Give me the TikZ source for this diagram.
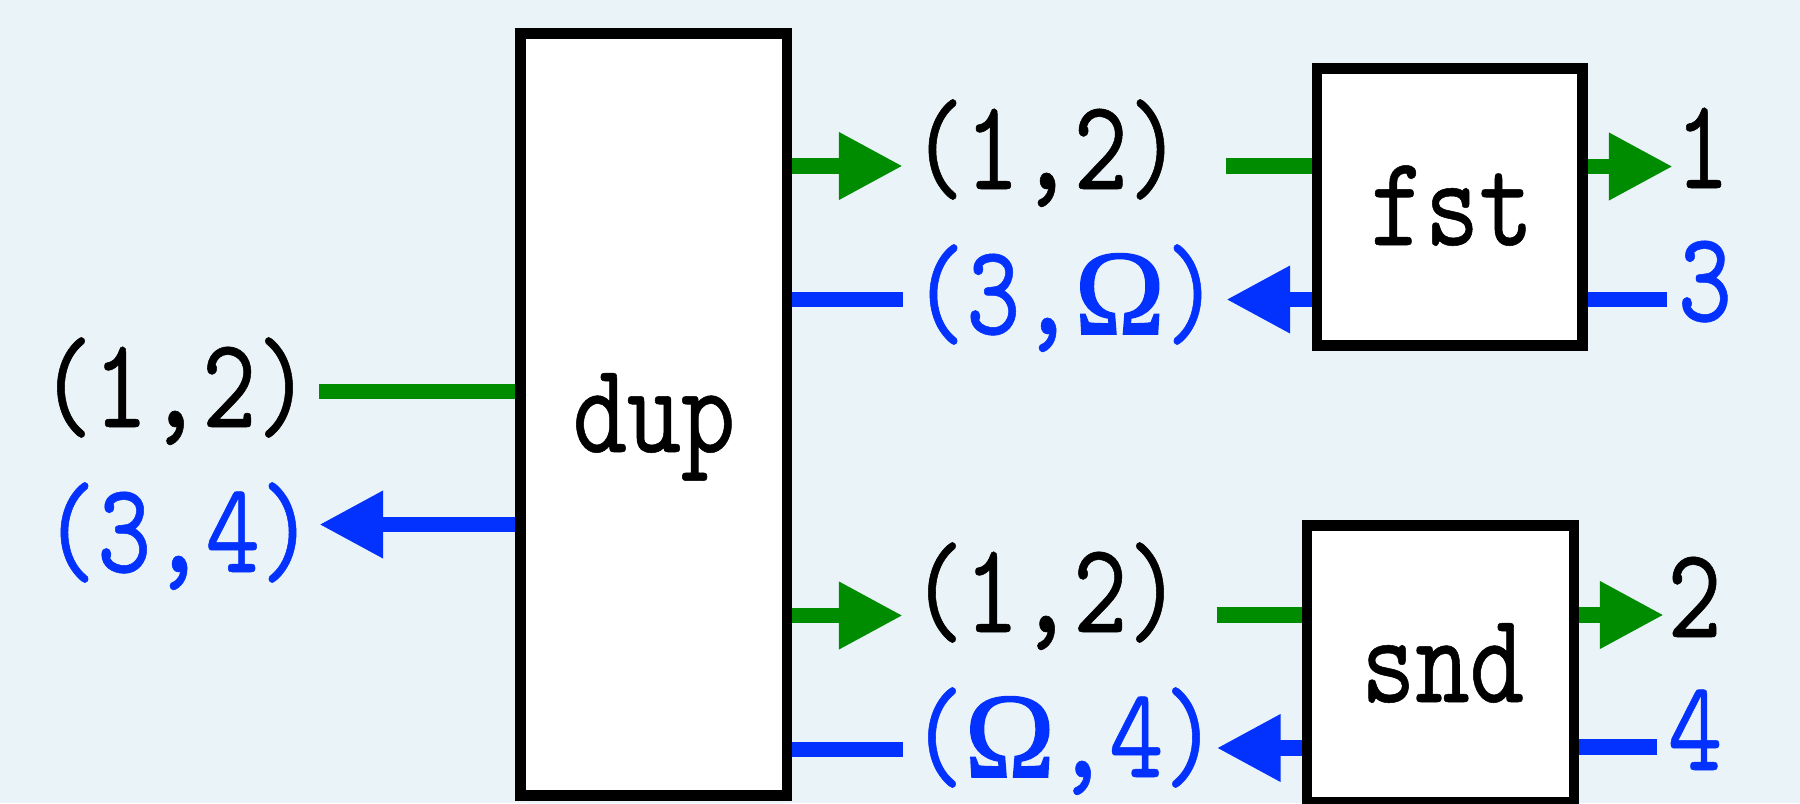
\documentclass[tikz,border=0pt]{standalone}
\usepackage{fontspec}
\newfontfamily\diagfont{lmmono10-regular.otf}[FakeStretch=0.8,FakeBold=0.4]
\newfontfamily\omfont{Liberation Serif}[FakeBold=1.5]
\usetikzlibrary{arrows.meta}
\definecolor{bgcol}{RGB}{234,243,247}
\definecolor{wiregreen}{RGB}{0,140,0}
\definecolor{wireblue}{RGB}{3,50,255}
\newcommand{\Om}{{\omfont\fontsize{34.5}{34.5}\selectfont Ω}}
\pgfdeclarelayer{backdrop}
\pgfdeclarelayer{wires}
\pgfsetlayers{backdrop,wires,main}

\begin{document}
\begin{tikzpicture}[x=0.01cm, y=-0.01cm,
  every node/.style={inner sep=0pt, outer sep=0pt},
  txt/.style={font=\diagfont\fontsize{36.7}{40}\selectfont, anchor=base},
  btxt/.style={txt, text=wireblue},
  procbox/.style={draw=black, fill=white, line width=3pt},
  gwire/.style={draw=wiregreen, line width=4.5pt},
  bwire/.style={draw=wireblue, line width=4.5pt},
  headed/.style={-{Triangle[length=0.64cm,width=0.63cm]}}]

% canvas
\begin{pgfonlayer}{backdrop}
  \fill[bgcol] (0,0) rectangle (1800,803);
\end{pgfonlayer}
\useasboundingbox (0,0) rectangle (1800,803);

% processing blocks
\node[procbox, minimum width=2.665cm, minimum height=7.615cm] (dup) at (653.75,414.25) {};
\node[procbox, minimum width=2.655cm, minimum height=2.77cm] (fst) at (1449.75,207) {};
\node[procbox, minimum width=2.67cm, minimum height=2.77cm] (snd) at (1440.5,664) {};
\node[txt] (duptxt) at (654,452) {dup};
\node[txt] (fsttxt) at (1452,245) {fst};
\node[txt] (sndtxt) at (1442.5,702) {snd};

% values on the wires
\node[txt]  (l12)  at (175,427)    {(1,2)};
\node[btxt] (l34)  at (178.5,572)  {(3,4)};
\node[txt]  (m12a) at (1046.5,189) {(1,2)};
\node[btxt] (m3o)  at (1065.5,334) {(3,\Om)};
\node[txt]  (m12b) at (1046,632)   {(1,2)};
\node[btxt] (mo4)  at (1064,777)   {(\Om,4)};
\node[txt]  (r1)   at (1702.5,188) {1};
\node[btxt] (r3)   at (1705,321)   {3};
\node[txt]  (r2)   at (1694.5,637) {2};
\node[btxt] (r4)   at (1695,770)   {4};

% free wire ends
\coordinate (a1) at (319,391.5);
\coordinate (a2) at (319,524.5);
\coordinate (b1) at (903,166);
\coordinate (b2) at (903,299.5);
\coordinate (c1) at (1226,166);
\coordinate (c2) at (1226,299.5);
\coordinate (d1) at (1673,166.5);
\coordinate (d2) at (1667,299.5);
\coordinate (e1) at (903,615.5);
\coordinate (e2) at (903,749.5);
\coordinate (f1) at (1216.5,615);
\coordinate (f2) at (1216.5,748);
\coordinate (g1) at (1664,615);
\coordinate (g2) at (1657,747);

\begin{pgfonlayer}{wires}
  % input side of dup
  \draw[gwire] (a1) -- (a1 -| dup.west);
  \draw[bwire,headed] (a2 -| dup.west) -- (a2);
  % dup to the upper branch
  \draw[gwire,headed] (b1 -| dup.east) -- (b1);
  \draw[bwire] (b2 -| dup.east) -- (b2);
  \draw[gwire] (c1) -- (c1 -| fst.west);
  \draw[bwire,headed] (c2 -| fst.west) -- (c2);
  \draw[gwire,headed] (d1 -| fst.east) -- (d1);
  \draw[bwire] (d2) -- (d2 -| fst.east);
  % dup to the lower branch
  \draw[gwire,headed] (e1 -| dup.east) -- (e1);
  \draw[bwire] (e2 -| dup.east) -- (e2);
  \draw[gwire] (f1) -- (f1 -| snd.west);
  \draw[bwire,headed] (f2 -| snd.west) -- (f2);
  \draw[gwire,headed] (g1 -| snd.east) -- (g1);
  \draw[bwire] (g2) -- (g2 -| snd.east);
\end{pgfonlayer}
\end{tikzpicture}
\end{document}
